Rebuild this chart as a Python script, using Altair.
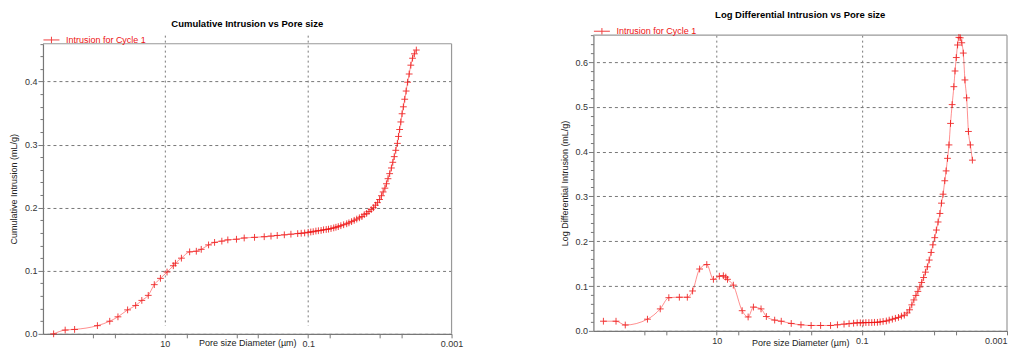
import altair as alt
import pandas as pd

series_name = "Intrusion for Cycle 1"

# Cumulative intrusion (left panel)
cum_diam = [355, 245, 181, 87, 58.6, 45, 33, 25.5, 20.9, 17, 14, 11.5, 9.3, 7.6, 7.1, 5.86, 4.5, 3.63,
            3.1, 2.45, 2.02, 1.6, 1.32, 1.0, 0.78, 0.56, 0.41, 0.33, 0.27, 0.215, 0.174, 0.14, 0.125,
            0.112, 0.1, 0.092, 0.085, 0.078, 0.072, 0.066, 0.061, 0.056, 0.052, 0.048, 0.044, 0.041,
            0.038, 0.035, 0.032, 0.029, 0.027, 0.0248, 0.0228, 0.021, 0.0193, 0.0178, 0.0165, 0.0153,
            0.0142, 0.0132, 0.0123, 0.0115, 0.0108, 0.0101, 0.0095, 0.009, 0.0085, 0.0081, 0.0077,
            0.0073, 0.0069, 0.0066, 0.0063, 0.006, 0.0057, 0.0055, 0.0053, 0.0051, 0.0049, 0.0047,
            0.0045, 0.0043, 0.0041, 0.0039, 0.0037, 0.0035, 0.0033, 0.0031]
cum_vol = [0.000, 0.006, 0.007, 0.013, 0.020, 0.027, 0.038, 0.045, 0.053, 0.061, 0.078, 0.088, 0.098,
           0.108, 0.112, 0.120, 0.130, 0.131, 0.134, 0.141, 0.145, 0.147, 0.149, 0.150, 0.152, 0.153,
           0.154, 0.155, 0.156, 0.157, 0.158, 0.159, 0.1595, 0.160, 0.161, 0.1615, 0.162, 0.163,
           0.1635, 0.164, 0.165, 0.1655, 0.166, 0.167, 0.168, 0.169, 0.170, 0.1715, 0.173, 0.1745,
           0.176, 0.178, 0.180, 0.182, 0.184, 0.186, 0.189, 0.191, 0.194, 0.197, 0.200, 0.204, 0.208,
           0.213, 0.219, 0.225, 0.231, 0.238, 0.246, 0.254, 0.263, 0.272, 0.281, 0.291, 0.302, 0.313,
           0.324, 0.336, 0.349, 0.360, 0.372, 0.385, 0.399, 0.412, 0.426, 0.437, 0.444, 0.450]

# Log differential intrusion (right panel)
ldi_diam = [364, 244, 182, 90, 60, 45.7, 32.7, 25.4, 21.5, 17.2, 13.7, 11.1, 9.2, 8.1, 7.5, 7.1, 5.9,
            4.46, 3.69, 3.12, 2.45, 2.07, 1.59, 1.29, 0.94, 0.69, 0.50, 0.37, 0.27, 0.217, 0.176, 0.15,
            0.13, 0.116, 0.105, 0.096, 0.088, 0.08, 0.073, 0.067, 0.061, 0.056, 0.051, 0.046, 0.042,
            0.038, 0.0345, 0.0313, 0.0285, 0.026, 0.0238, 0.022, 0.0205, 0.0192, 0.018, 0.0169,
            0.0159, 0.015, 0.0141, 0.0133, 0.0125, 0.0118, 0.0111, 0.0105, 0.0099, 0.0094, 0.0089,
            0.0084, 0.008, 0.0076, 0.0072, 0.0069, 0.0066, 0.0063, 0.006, 0.0057, 0.0054, 0.0052,
            0.005, 0.0048, 0.0046, 0.0044, 0.0042, 0.004, 0.0038, 0.0036, 0.0034, 0.0032, 0.0030]
ldi_vol = [0.0215, 0.0215, 0.013, 0.026, 0.049, 0.074, 0.075, 0.075, 0.089, 0.138, 0.148, 0.115, 0.122,
           0.123, 0.120, 0.115, 0.102, 0.045, 0.031, 0.053, 0.049, 0.032, 0.024, 0.0215, 0.0165,
           0.0135, 0.012, 0.012, 0.012, 0.0135, 0.015, 0.016, 0.017, 0.018, 0.018, 0.018, 0.0185,
           0.0185, 0.0185, 0.019, 0.019, 0.020, 0.021, 0.022, 0.024, 0.026, 0.028, 0.030, 0.033, 0.035,
           0.040, 0.047, 0.058, 0.069, 0.079, 0.088, 0.098, 0.108, 0.119, 0.131, 0.143, 0.158, 0.175,
           0.192, 0.208, 0.225, 0.243, 0.262, 0.285, 0.305, 0.335, 0.357, 0.385, 0.415, 0.463, 0.505,
           0.545, 0.580, 0.610, 0.638, 0.655, 0.654, 0.643, 0.620, 0.560, 0.520, 0.445, 0.415, 0.381]

x_tick_values = [100, 50, 10, 5, 1, 0.5, 0.1, 0.05, 0.01, 0.005, 0.001]
x_domain = [0.001, 500]
cum_y_ticks = [0.0, 0.02, 0.04, 0.06, 0.08, 0.1, 0.12, 0.14, 0.16, 0.18, 0.2, 0.22, 0.24, 0.26, 0.28,
               0.3, 0.32, 0.34, 0.36, 0.38, 0.4, 0.42, 0.44, 0.46]
ldi_y_ticks = cum_y_ticks + [0.48, 0.5, 0.52, 0.54, 0.56, 0.58, 0.6, 0.62, 0.64, 0.66]

RED = "#ee1111"
FONT = "Liberation Sans"
PLUS = "M-1,0L1,0M0,-1L0,1"
MAJOR = "abs(datum.value*10 - round(datum.value*10)) < 0.000001"


def panel(diam, vol, title, ytitle, ymax, yticks, width, height, yrange, legend_y,
          x_title_pad, y_title_pad, last_align):
    df = pd.DataFrame({"d": diam, "v": vol, "s": series_name})
    frame_df = pd.DataFrame({"k": [0]})
    xscale = alt.Scale(type="log", domain=x_domain, reverse=True, nice=False)
    if yrange is not None:
        yscale = alt.Scale(domain=[0, ymax], nice=False, zero=False, range=yrange)
    else:
        yscale = alt.Scale(domain=[0, ymax], nice=False, zero=False)
    xaxis = alt.Axis(
        values=x_tick_values, tickCount=100,
        labelExpr="datum.value == 10 ? '10' : datum.value == 0.1 ? '0.1' : datum.value == 0.001 ? '0.001' : ''",
        labelAlign={"condition": {"test": "datum.value == 0.001", "value": last_align}, "value": "center"},
        title="Pore size Diameter (µm)",
        grid=True, gridDash=[2, 3], gridColor="#777",
        gridOpacity={"condition": {"test": "datum.value == 10 || datum.value == 0.1", "value": 1}, "value": 0},
        tickSize=4, labelFlush=False, labelOverlap=False, labelPadding=2, titlePadding=x_title_pad,
    )
    yaxis = alt.Axis(
        values=yticks, tickCount=100,
        labelExpr=f"{MAJOR} ? format(datum.value, '.1f') : ''",
        title=ytitle,
        grid=True, gridDash=[3, 3], gridColor="#777",
        gridOpacity={"condition": {"test": MAJOR, "value": 1}, "value": 0},
        tickSize={"condition": {"test": MAJOR, "value": 5}, "value": 3},
        labelOverlap=False, labelPadding=1, titlePadding=y_title_pad,
    )
    base = alt.Chart(df)
    line = base.mark_line(color="#ff2020", strokeWidth=1, opacity=0.5, interpolate="monotone").encode(
        x=alt.X("d:Q", scale=xscale, axis=xaxis),
        y=alt.Y("v:Q", scale=yscale, axis=yaxis),
    )
    pts = base.mark_point(shape=PLUS, size=46, filled=False, strokeWidth=1, opacity=0.8).encode(
        x=alt.X("d:Q"),
        y=alt.Y("v:Q"),
        color=alt.Color("s:N", scale=alt.Scale(range=[RED]), legend=alt.Legend(
            title=None, orient="none", legendX=0, legendY=legend_y, direction="horizontal",
            symbolType="M-1,0L1,0M0,-0.4L0,0.4", symbolSize=256, symbolStrokeWidth=1,
            labelColor=RED, labelFontSize=9, labelFont=FONT, labelOffset=6, padding=0,
        )),
    )
    top = alt.Chart(frame_df).mark_rule(color="#999", strokeWidth=1.2).encode(
        x=alt.datum(x_domain[1]), x2=alt.datum(x_domain[0]), y=alt.datum(ymax))
    right = alt.Chart(frame_df).mark_rule(color="#999", strokeWidth=1.2).encode(
        x=alt.datum(x_domain[0]), y=alt.datum(0), y2=alt.datum(ymax))
    return alt.layer(top, right, line, pts).properties(
        width=width, height=height,
        title=alt.Title(title, fontSize=9.5, font=FONT, fontWeight="bold", color="black",
                        anchor="middle", frame="group", offset=2.8),
    )


left = panel(cum_diam, cum_vol, "Cumulative Intrusion vs Pore size", "Cumulative Intrusion (mL/g)",
             0.46, cum_y_ticks, 409, 299, [299, 8.6], -3.7, -10, 6, "center")
right = panel(ldi_diam, ldi_vol, "Log Differential Intrusion vs Pore size",
              "Log Differential Intrusion (mL/g)", 0.66, ldi_y_ticks, 414, 296, None, -12.4, -7, 5, "right")

chart = alt.hconcat(left, right, spacing=96).resolve_scale(color="independent").properties(
    padding={"left": 0, "top": 1, "right": 0, "bottom": 0}
).configure(font=FONT).configure_view(stroke="transparent").configure_axis(
    labelFont=FONT, titleFont=FONT, labelFontSize=9, titleFontSize=9, titleFontWeight="normal",
    labelColor="#333", titleColor="#222", domainColor="#777", tickColor="#777", domainWidth=1.2,
)

chart.save("out.html", embed_options={"renderer": "svg", "actions": False})
